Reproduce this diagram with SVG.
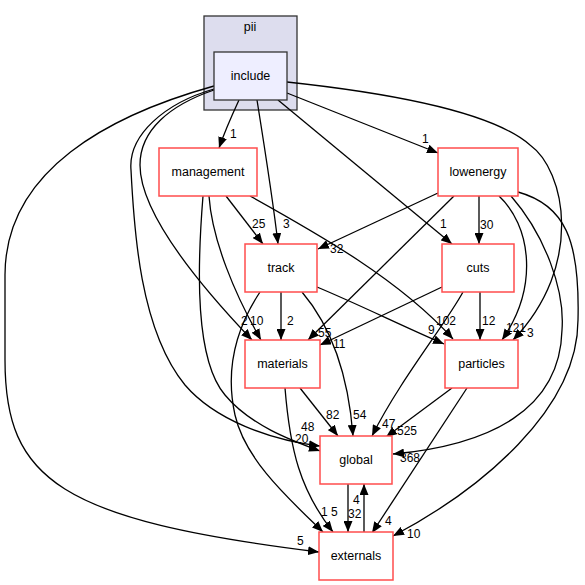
<svg xmlns="http://www.w3.org/2000/svg" width="585" height="585" viewBox="0 0 585 585">
<defs>
<marker id="ah" markerWidth="11" markerHeight="9" refX="11" refY="4.5" orient="auto" markerUnits="userSpaceOnUse">
<path d="M0,0 L11,4.5 L0,9 z" fill="#000"/>
</marker>
<style>
.e{fill:none;stroke:#000;stroke-width:1.3;marker-end:url(#ah)}
.n{fill:#fff;stroke:#ff4d4d;stroke-width:1.5}
.t{font-family:"Liberation Sans",Arial,sans-serif;font-size:12.5px;fill:#000;text-anchor:middle}
.l{font-family:"Liberation Sans",Arial,sans-serif;font-size:12px;fill:#000}
</style>
</defs>
<rect width="585" height="585" fill="#fff"/>
<g id="cluster_pii">
<rect x="204" y="16" width="93" height="94" fill="#ddddee" stroke="#333" stroke-width="1.3"/>
<text class="t" x="250" y="31">pii</text>
</g>
<g id="edges">
<path class="e" d="M239,100 C233,113 226,128 219,148"/>
<path class="e" d="M257,100 C265,150 273,200 278,244"/>
<path class="e" d="M278,100 L452,244"/>
<path class="e" d="M287,93 L438,153"/>
<path class="e" d="M287,82 C380,92 490,110 530,145 C565,170 585,265 513,340"/>
<path class="e" d="M214,90 C170,105 140,130 140,165 C140,210 190,275 252,340"/>
<path class="e" d="M214,89 C165,103 128,135 131,170 C134,230 140,330 185,385 C215,420 270,440 320,446"/>
<path class="e" d="M214,86 C110,115 5,170 5,275 L5,360 C5,480 60,520 319,552"/>
<path class="e" d="M226,196 L263,244"/>
<path class="e" d="M250,196 C320,235 400,280 453,339"/>
<path class="e" d="M209,196 C212,240 235,295 261,340"/>
<path class="e" d="M203,196 C197,270 195,360 225,395 C250,425 290,440 320,451"/>
<path class="e" d="M281,292 L281,340"/>
<path class="e" d="M317,287 C360,305 400,325 444,344"/>
<path class="e" d="M302,292 C330,325 348,370 353,436"/>
<path class="e" d="M260,292 C235,330 225,370 235,415 C245,460 290,500 323,532"/>
<path class="e" d="M480,292 L480,340"/>
<path class="e" d="M442,287 L320,345"/>
<path class="e" d="M463,292 C445,325 400,380 372,436"/>
<path class="e" d="M438,193 L318,249"/>
<path class="e" d="M479,196 L479,244"/>
<path class="e" d="M454,196 L308,340"/>
<path class="e" d="M499,196 C530,225 540,285 502,340"/>
<path class="e" d="M511,196 C545,235 565,290 562,330 C560,410 490,445 393,454"/>
<path class="e" d="M518,192 C565,205 580,240 578,320 C578,410 480,490 393,536"/>
<path class="e" d="M300,388 L338,436"/>
<path class="e" d="M285,388 C290,450 300,490 333,532"/>
<path class="e" d="M452,388 L386,437"/>
<path class="e" d="M467,388 L372,533"/>
<path class="e" d="M348,484 L348,532"/>
<path class="e" d="M364,532 L364,484"/>
</g>
<g id="edge_labels">
<text class="l" x="230" y="138">1</text>
<text class="l" x="283" y="228">3</text>
<text class="l" x="440" y="228">1</text>
<text class="l" x="422" y="143">1</text>
<text class="l" x="252" y="228">25</text>
<text class="l" x="330" y="253">32</text>
<text class="l" x="480" y="229">30</text>
<text class="l" x="318" y="337">55</text>
<text class="l" x="333" y="348">11</text>
<text class="l" x="287" y="325">2</text>
<text class="l" x="241" y="325">2</text>
<text class="l" x="250" y="325">10</text>
<text class="l" x="436" y="325">102</text>
<text class="l" x="428" y="334">9</text>
<text class="l" x="482" y="325">12</text>
<text class="l" x="506" y="332">121</text>
<text class="l" x="527" y="337">3</text>
<text class="l" x="301" y="431">48</text>
<text class="l" x="295" y="443">20</text>
<text class="l" x="326" y="419">82</text>
<text class="l" x="353" y="419">54</text>
<text class="l" x="382" y="428">47</text>
<text class="l" x="397" y="435">525</text>
<text class="l" x="400" y="462">368</text>
<text class="l" x="297" y="545">5</text>
<text class="l" x="321" y="516">1</text>
<text class="l" x="331" y="516">5</text>
<text class="l" x="353" y="504">4</text>
<text class="l" x="348" y="518">32</text>
<text class="l" x="385" y="525">4</text>
<text class="l" x="407" y="538">10</text>
</g>
<g id="include">
<rect x="214" y="52" width="73" height="48" fill="#eeeeff" stroke="#333" stroke-width="1.3"/>
<text class="t" x="250.5" y="80">include</text>
</g>
<g id="management">
<rect class="n" x="159" y="148" width="98" height="48"/>
<text class="t" x="208" y="176">management</text>
</g>
<g id="lowenergy">
<rect class="n" x="438" y="148" width="80" height="48"/>
<text class="t" x="478" y="176">lowenergy</text>
</g>
<g id="track">
<rect class="n" x="245" y="244" width="72" height="48"/>
<text class="t" x="281" y="272">track</text>
</g>
<g id="cuts">
<rect class="n" x="442" y="244" width="72" height="48"/>
<text class="t" x="478" y="272">cuts</text>
</g>
<g id="materials">
<rect class="n" x="245" y="340" width="75" height="48"/>
<text class="t" x="282.5" y="368">materials</text>
</g>
<g id="particles">
<rect class="n" x="445" y="340" width="73" height="48"/>
<text class="t" x="481.5" y="368">particles</text>
</g>
<g id="global">
<rect class="n" x="320" y="436" width="72" height="48"/>
<text class="t" x="356" y="464">global</text>
</g>
<g id="externals">
<rect class="n" x="319" y="532" width="74" height="48"/>
<text class="t" x="356" y="560">externals</text>
</g>
</svg>
